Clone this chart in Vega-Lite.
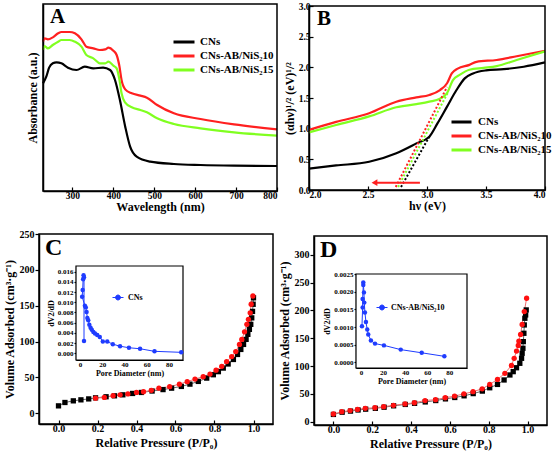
{
"$schema": "https://vega.github.io/schema/vega-lite/v6.json",
"width": 555, "height": 459, "autosize": "none", "padding": 0, "background": "white",
"config": {
 "view": {"stroke": null},
 "font": "Liberation Serif",
 "axis": {"labelFont": "Liberation Serif", "titleFont": "Liberation Serif", "labelFontWeight": "bold", "titleFontWeight": "bold", "labelColor": "#000", "titleColor": "#000", "domainColor": "#000", "tickColor": "#000", "grid": false, "domainWidth": 1.5, "tickWidth": 1.2, "labelFontSize": 10, "titleFontSize": 12},
 "legend": {"labelFont": "Liberation Serif", "labelFontWeight": "bold", "labelColor": "#000"}
},
"datasets": {
 "uv": [
  {"s":"CNs","wl":228,"a":3.23},{"s":"CNs","wl":236,"a":3.43},{"s":"CNs","wl":243,"a":3.70},{"s":"CNs","wl":252,"a":3.83},{"s":"CNs","wl":261,"a":3.86},{"s":"CNs","wl":273,"a":3.83},{"s":"CNs","wl":289,"a":3.70},{"s":"CNs","wl":310,"a":3.63},{"s":"CNs","wl":330,"a":3.73},{"s":"CNs","wl":351,"a":3.68},{"s":"CNs","wl":375,"a":3.70},{"s":"CNs","wl":392,"a":3.63},{"s":"CNs","wl":404,"a":3.33},{"s":"CNs","wl":416,"a":2.73},{"s":"CNs","wl":429,"a":1.93},{"s":"CNs","wl":441,"a":1.33},{"s":"CNs","wl":457,"a":1.03},{"s":"CNs","wl":490,"a":0.88},{"s":"CNs","wl":548,"a":0.81},{"s":"CNs","wl":613,"a":0.78},{"s":"CNs","wl":695,"a":0.76},{"s":"CNs","wl":800,"a":0.75},
  {"s":"CNs-AB/NiS₂10","wl":228,"a":4.48},{"s":"CNs-AB/NiS₂10","wl":232,"a":4.58},{"s":"CNs-AB/NiS₂10","wl":240,"a":4.55},{"s":"CNs-AB/NiS₂10","wl":252,"a":4.61},{"s":"CNs-AB/NiS₂10","wl":265,"a":4.73},{"s":"CNs-AB/NiS₂10","wl":273,"a":4.77},{"s":"CNs-AB/NiS₂10","wl":293,"a":4.77},{"s":"CNs-AB/NiS₂10","wl":306,"a":4.73},{"s":"CNs-AB/NiS₂10","wl":322,"a":4.55},{"s":"CNs-AB/NiS₂10","wl":334,"a":4.33},{"s":"CNs-AB/NiS₂10","wl":351,"a":4.28},{"s":"CNs-AB/NiS₂10","wl":367,"a":4.23},{"s":"CNs-AB/NiS₂10","wl":380,"a":4.25},{"s":"CNs-AB/NiS₂10","wl":388,"a":4.30},{"s":"CNs-AB/NiS₂10","wl":400,"a":4.21},{"s":"CNs-AB/NiS₂10","wl":408,"a":4.08},{"s":"CNs-AB/NiS₂10","wl":415,"a":3.73},{"s":"CNs-AB/NiS₂10","wl":420,"a":3.33},{"s":"CNs-AB/NiS₂10","wl":429,"a":3.05},{"s":"CNs-AB/NiS₂10","wl":445,"a":2.93},{"s":"CNs-AB/NiS₂10","wl":466,"a":2.86},{"s":"CNs-AB/NiS₂10","wl":482,"a":2.80},{"s":"CNs-AB/NiS₂10","wl":507,"a":2.58},{"s":"CNs-AB/NiS₂10","wl":548,"a":2.33},{"s":"CNs-AB/NiS₂10","wl":613,"a":2.16},{"s":"CNs-AB/NiS₂10","wl":695,"a":2.00},{"s":"CNs-AB/NiS₂10","wl":800,"a":1.85},
  {"s":"CNs-AB/NiS₂15","wl":228,"a":4.23},{"s":"CNs-AB/NiS₂15","wl":232,"a":4.35},{"s":"CNs-AB/NiS₂15","wl":240,"a":4.28},{"s":"CNs-AB/NiS₂15","wl":252,"a":4.38},{"s":"CNs-AB/NiS₂15","wl":265,"a":4.48},{"s":"CNs-AB/NiS₂15","wl":273,"a":4.53},{"s":"CNs-AB/NiS₂15","wl":293,"a":4.53},{"s":"CNs-AB/NiS₂15","wl":306,"a":4.48},{"s":"CNs-AB/NiS₂15","wl":322,"a":4.33},{"s":"CNs-AB/NiS₂15","wl":334,"a":4.08},{"s":"CNs-AB/NiS₂15","wl":351,"a":3.98},{"s":"CNs-AB/NiS₂15","wl":367,"a":3.83},{"s":"CNs-AB/NiS₂15","wl":380,"a":3.83},{"s":"CNs-AB/NiS₂15","wl":388,"a":3.88},{"s":"CNs-AB/NiS₂15","wl":400,"a":3.76},{"s":"CNs-AB/NiS₂15","wl":408,"a":3.68},{"s":"CNs-AB/NiS₂15","wl":415,"a":3.33},{"s":"CNs-AB/NiS₂15","wl":420,"a":2.93},{"s":"CNs-AB/NiS₂15","wl":429,"a":2.65},{"s":"CNs-AB/NiS₂15","wl":445,"a":2.51},{"s":"CNs-AB/NiS₂15","wl":466,"a":2.43},{"s":"CNs-AB/NiS₂15","wl":482,"a":2.36},{"s":"CNs-AB/NiS₂15","wl":507,"a":2.18},{"s":"CNs-AB/NiS₂15","wl":548,"a":2.01},{"s":"CNs-AB/NiS₂15","wl":613,"a":1.88},{"s":"CNs-AB/NiS₂15","wl":695,"a":1.76},{"s":"CNs-AB/NiS₂15","wl":800,"a":1.66}
 ],
 "tauc": [
  {"s":"CNs","e":2.0,"v":0.35},{"s":"CNs","e":2.23,"v":0.40},{"s":"CNs","e":2.51,"v":0.46},{"s":"CNs","e":2.74,"v":0.60},{"s":"CNs","e":2.91,"v":0.76},{"s":"CNs","e":3.02,"v":0.87},{"s":"CNs","e":3.09,"v":1.09},{"s":"CNs","e":3.17,"v":1.36},{"s":"CNs","e":3.25,"v":1.63},{"s":"CNs","e":3.32,"v":1.82},{"s":"CNs","e":3.39,"v":1.90},{"s":"CNs","e":3.50,"v":1.95},{"s":"CNs","e":3.65,"v":1.97},{"s":"CNs","e":3.82,"v":2.01},{"s":"CNs","e":4.0,"v":2.08},
  {"s":"CNs-AB/NiS₂10","e":2.0,"v":0.98},{"s":"CNs-AB/NiS₂10","e":2.23,"v":1.11},{"s":"CNs-AB/NiS₂10","e":2.51,"v":1.25},{"s":"CNs-AB/NiS₂10","e":2.74,"v":1.44},{"s":"CNs-AB/NiS₂10","e":2.91,"v":1.51},{"s":"CNs-AB/NiS₂10","e":3.02,"v":1.55},{"s":"CNs-AB/NiS₂10","e":3.11,"v":1.63},{"s":"CNs-AB/NiS₂10","e":3.17,"v":1.74},{"s":"CNs-AB/NiS₂10","e":3.21,"v":1.90},{"s":"CNs-AB/NiS₂10","e":3.26,"v":1.98},{"s":"CNs-AB/NiS₂10","e":3.36,"v":2.04},{"s":"CNs-AB/NiS₂10","e":3.42,"v":2.09},{"s":"CNs-AB/NiS₂10","e":3.59,"v":2.12},{"s":"CNs-AB/NiS₂10","e":3.76,"v":2.18},{"s":"CNs-AB/NiS₂10","e":4.0,"v":2.27},
  {"s":"CNs-AB/NiS₂15","e":2.0,"v":0.94},{"s":"CNs-AB/NiS₂15","e":2.23,"v":1.06},{"s":"CNs-AB/NiS₂15","e":2.51,"v":1.20},{"s":"CNs-AB/NiS₂15","e":2.74,"v":1.35},{"s":"CNs-AB/NiS₂15","e":2.91,"v":1.40},{"s":"CNs-AB/NiS₂15","e":3.02,"v":1.44},{"s":"CNs-AB/NiS₂15","e":3.11,"v":1.49},{"s":"CNs-AB/NiS₂15","e":3.17,"v":1.58},{"s":"CNs-AB/NiS₂15","e":3.22,"v":1.79},{"s":"CNs-AB/NiS₂15","e":3.28,"v":1.88},{"s":"CNs-AB/NiS₂15","e":3.36,"v":1.96},{"s":"CNs-AB/NiS₂15","e":3.48,"v":1.99},{"s":"CNs-AB/NiS₂15","e":3.59,"v":2.02},{"s":"CNs-AB/NiS₂15","e":3.76,"v":2.12},{"s":"CNs-AB/NiS₂15","e":4.0,"v":2.26}
 ],
 "tangent": [
  {"s":"CNs-AB/NiS₂10","e":2.735,"v":0.05},{"s":"CNs-AB/NiS₂10","e":3.17,"v":1.68},
  {"s":"CNs-AB/NiS₂15","e":2.755,"v":0.05},{"s":"CNs-AB/NiS₂15","e":3.18,"v":1.60},
  {"s":"CNs","e":2.78,"v":0.05},{"s":"CNs","e":3.02,"v":0.87}
 ],
 "betC": [
  {"s":"adsorption","p":0.0,"v":10.3},{"s":"adsorption","p":0.033,"v":15},{"s":"adsorption","p":0.076,"v":17.3},{"s":"adsorption","p":0.115,"v":18.7},{"s":"adsorption","p":0.155,"v":20},{"s":"adsorption","p":0.19,"v":21.5},{"s":"adsorption","p":0.244,"v":23},{"s":"adsorption","p":0.287,"v":24.3},{"s":"adsorption","p":0.33,"v":25.7},{"s":"adsorption","p":0.38,"v":27.6},{"s":"adsorption","p":0.425,"v":29},{"s":"adsorption","p":0.48,"v":31},{"s":"adsorption","p":0.536,"v":33},{"s":"adsorption","p":0.58,"v":35},{"s":"adsorption","p":0.63,"v":37.4},{"s":"adsorption","p":0.674,"v":40.6},{"s":"adsorption","p":0.717,"v":44.4},{"s":"adsorption","p":0.76,"v":49},{"s":"adsorption","p":0.794,"v":53.7},{"s":"adsorption","p":0.82,"v":58},{"s":"adsorption","p":0.845,"v":63},{"s":"adsorption","p":0.87,"v":68.7},{"s":"adsorption","p":0.897,"v":75},{"s":"adsorption","p":0.918,"v":82},{"s":"adsorption","p":0.935,"v":89},{"s":"adsorption","p":0.949,"v":96},{"s":"adsorption","p":0.962,"v":103},{"s":"adsorption","p":0.971,"v":110},{"s":"adsorption","p":0.979,"v":117},{"s":"adsorption","p":0.986,"v":124},{"s":"adsorption","p":0.991,"v":133},{"s":"adsorption","p":0.995,"v":142},{"s":"adsorption","p":0.998,"v":152},{"s":"adsorption","p":1.0,"v":161},
  {"s":"desorption","p":0.19,"v":21},{"s":"desorption","p":0.235,"v":22},{"s":"desorption","p":0.28,"v":24.5},{"s":"desorption","p":0.316,"v":25.7},{"s":"desorption","p":0.356,"v":27},{"s":"desorption","p":0.4,"v":29},{"s":"desorption","p":0.436,"v":30},{"s":"desorption","p":0.476,"v":32},{"s":"desorption","p":0.515,"v":35},{"s":"desorption","p":0.57,"v":37},{"s":"desorption","p":0.62,"v":40.6},{"s":"desorption","p":0.66,"v":44},{"s":"desorption","p":0.7,"v":47.7},{"s":"desorption","p":0.742,"v":51},{"s":"desorption","p":0.777,"v":54.7},{"s":"desorption","p":0.808,"v":60},{"s":"desorption","p":0.837,"v":65.4},{"s":"desorption","p":0.862,"v":72},{"s":"desorption","p":0.888,"v":79},{"s":"desorption","p":0.909,"v":86},{"s":"desorption","p":0.928,"v":96},{"s":"desorption","p":0.94,"v":103},{"s":"desorption","p":0.954,"v":113.5},{"s":"desorption","p":0.966,"v":124},{"s":"desorption","p":0.974,"v":131},{"s":"desorption","p":0.983,"v":140},{"s":"desorption","p":0.988,"v":152},{"s":"desorption","p":0.997,"v":163.5}
 ],
 "betD": [
  {"s":"adsorption","p":0.0,"v":13},{"s":"adsorption","p":0.045,"v":17},{"s":"adsorption","p":0.088,"v":19},{"s":"adsorption","p":0.127,"v":21},{"s":"adsorption","p":0.166,"v":22.5},{"s":"adsorption","p":0.216,"v":24},{"s":"adsorption","p":0.261,"v":26},{"s":"adsorption","p":0.31,"v":28.5},{"s":"adsorption","p":0.37,"v":31},{"s":"adsorption","p":0.418,"v":33},{"s":"adsorption","p":0.473,"v":35.5},{"s":"adsorption","p":0.527,"v":38},{"s":"adsorption","p":0.577,"v":41},{"s":"adsorption","p":0.625,"v":43.5},{"s":"adsorption","p":0.673,"v":46.5},{"s":"adsorption","p":0.72,"v":50.5},{"s":"adsorption","p":0.767,"v":55},{"s":"adsorption","p":0.805,"v":61},{"s":"adsorption","p":0.845,"v":67},{"s":"adsorption","p":0.879,"v":75},{"s":"adsorption","p":0.909,"v":84},{"s":"adsorption","p":0.926,"v":90},{"s":"adsorption","p":0.943,"v":97},{"s":"adsorption","p":0.96,"v":105},{"s":"adsorption","p":0.969,"v":114},{"s":"adsorption","p":0.972,"v":123},{"s":"adsorption","p":0.976,"v":132},{"s":"adsorption","p":0.978,"v":144},{"s":"adsorption","p":0.981,"v":159},{"s":"adsorption","p":0.983,"v":174},{"s":"adsorption","p":0.986,"v":186},{"s":"adsorption","p":0.99,"v":192},{"s":"adsorption","p":0.993,"v":201},
  {"s":"desorption","p":0.0,"v":13.8},{"s":"desorption","p":0.043,"v":18},{"s":"desorption","p":0.086,"v":20},{"s":"desorption","p":0.124,"v":22},{"s":"desorption","p":0.164,"v":24},{"s":"desorption","p":0.214,"v":25},{"s":"desorption","p":0.259,"v":27},{"s":"desorption","p":0.309,"v":29.4},{"s":"desorption","p":0.369,"v":32},{"s":"desorption","p":0.417,"v":34},{"s":"desorption","p":0.472,"v":38},{"s":"desorption","p":0.526,"v":39.6},{"s":"desorption","p":0.576,"v":43},{"s":"desorption","p":0.624,"v":46},{"s":"desorption","p":0.672,"v":50},{"s":"desorption","p":0.719,"v":54},{"s":"desorption","p":0.766,"v":59},{"s":"desorption","p":0.805,"v":67},{"s":"desorption","p":0.845,"v":76},{"s":"desorption","p":0.883,"v":87},{"s":"desorption","p":0.917,"v":101},{"s":"desorption","p":0.931,"v":114},{"s":"desorption","p":0.943,"v":127},{"s":"desorption","p":0.952,"v":137},{"s":"desorption","p":0.955,"v":145},{"s":"desorption","p":0.964,"v":157},{"s":"desorption","p":0.972,"v":175},{"s":"desorption","p":0.983,"v":198},{"s":"desorption","p":0.995,"v":222}
 ],
 "poreC": [
  {"s":"CNs","i":0,"d":3.6,"v":0.0024},{"s":"CNs","i":1,"d":3.6,"v":0.0149},{"s":"CNs","i":2,"d":3.2,"v":0.0153},{"s":"CNs","i":3,"d":2.8,"v":0.0145},{"s":"CNs","i":4,"d":2.4,"v":0.0124},{"s":"CNs","i":5,"d":1.9,"v":0.0111},{"s":"CNs","i":6,"d":4.4,"v":0.0093},{"s":"CNs","i":7,"d":5.2,"v":0.0090},{"s":"CNs","i":8,"d":5.9,"v":0.0081},{"s":"CNs","i":9,"d":6.6,"v":0.0069},{"s":"CNs","i":10,"d":7.4,"v":0.0065},{"s":"CNs","i":11,"d":8.4,"v":0.0056},{"s":"CNs","i":12,"d":9.5,"v":0.0050},{"s":"CNs","i":13,"d":10.6,"v":0.0046},{"s":"CNs","i":14,"d":12.0,"v":0.0042},{"s":"CNs","i":15,"d":13.5,"v":0.0039},{"s":"CNs","i":16,"d":15.5,"v":0.0036},{"s":"CNs","i":17,"d":17.8,"v":0.0032},{"s":"CNs","i":18,"d":20.5,"v":0.0023},{"s":"CNs","i":19,"d":24.5,"v":0.0023},{"s":"CNs","i":20,"d":29.5,"v":0.0018},{"s":"CNs","i":21,"d":36,"v":0.0014},{"s":"CNs","i":22,"d":44,"v":0.0011},{"s":"CNs","i":23,"d":54,"v":0.0009},{"s":"CNs","i":24,"d":67,"v":0.0004},{"s":"CNs","i":25,"d":91,"v":0.0002}
 ],
 "poreD": [
  {"s":"CNs-AB/NiS₂10","i":0,"d":0.9,"v":0.00102},{"s":"CNs-AB/NiS₂10","i":1,"d":1.5,"v":0.00155},{"s":"CNs-AB/NiS₂10","i":2,"d":1.5,"v":0.00179},{"s":"CNs-AB/NiS₂10","i":3,"d":2.1,"v":0.00219},{"s":"CNs-AB/NiS₂10","i":4,"d":2.1,"v":0.00226},{"s":"CNs-AB/NiS₂10","i":5,"d":2.7,"v":0.00198},{"s":"CNs-AB/NiS₂10","i":6,"d":3.0,"v":0.00169},{"s":"CNs-AB/NiS₂10","i":7,"d":3.6,"v":0.00141},{"s":"CNs-AB/NiS₂10","i":8,"d":4.5,"v":0.00114},{"s":"CNs-AB/NiS₂10","i":9,"d":5.7,"v":0.00093},{"s":"CNs-AB/NiS₂10","i":10,"d":6.6,"v":0.00079},{"s":"CNs-AB/NiS₂10","i":11,"d":9,"v":0.00062},{"s":"CNs-AB/NiS₂10","i":12,"d":12.7,"v":0.00053},{"s":"CNs-AB/NiS₂10","i":13,"d":20.8,"v":0.00048},{"s":"CNs-AB/NiS₂10","i":14,"d":36,"v":0.00036},{"s":"CNs-AB/NiS₂10","i":15,"d":55,"v":0.00027},{"s":"CNs-AB/NiS₂10","i":16,"d":75.5,"v":0.00017}
 ],
 "one": [{}]
},
"layer": [
 {"layer": [
  {"data": {"name": "uv"}, "mark": {"type": "line", "strokeWidth": 2.2, "interpolate": "monotone"},
   "encoding": {
    "x": {"field": "wl", "type": "quantitative", "scale": {"domain": [228, 800], "range": [43, 277], "nice": false, "zero": false},
          "axis": {"orient": "bottom", "offset": -268, "values": [300,400,500,600,700,800], "tickSize": -4, "labelPadding": 3, "labelFontSize": 9.5, "title": "Wavelength (nm)", "titlePadding": 2}},
    "y": {"field": "a", "type": "quantitative", "scale": {"domain": [0, 5.61], "range": [191, 4], "nice": false, "zero": false},
          "axis": {"orient": "left", "offset": -43, "labels": false, "ticks": false, "title": "Absorbance (a.u.)", "titlePadding": 4}},
    "color": {"field": "s", "type": "nominal", "scale": {"domain": ["CNs","CNs-AB/NiS₂10","CNs-AB/NiS₂15"], "range": ["#000000","#ff2020","#80ff20"]},
          "legend": {"title": null, "orient": "none", "legendX": 172, "legendY": 36, "symbolType": "stroke", "symbolSize": 441, "symbolStrokeWidth": 3, "clipHeight": 12, "rowPadding": 2, "labelFontSize": 11, "labelOffset": 4}}
   }},
  {"data": {"name": "one"}, "mark": {"type": "rect", "fill": "transparent", "stroke": "#000", "strokeWidth": 1.5},
   "encoding": {"x": {"datum": 228, "type": "quantitative"}, "x2": {"datum": 800}, "y": {"datum": 0, "type": "quantitative"}, "y2": {"datum": 5.61}}},
  {"data": {"name": "one"}, "mark": {"type": "text", "text": "A", "font": "Liberation Serif", "fontWeight": "bold", "fontSize": 21, "align": "left", "baseline": "alphabetic"},
   "encoding": {"x": {"datum": 245, "type": "quantitative"}, "y": {"datum": 5.04, "type": "quantitative"}}}
 ]},
 {"layer": [
  {"data": {"name": "tauc"}, "mark": {"type": "line", "strokeWidth": 2.2, "interpolate": "monotone"},
   "encoding": {
    "x": {"field": "e", "type": "quantitative", "scale": {"domain": [2, 4], "range": [309, 545], "nice": false, "zero": false},
          "axis": {"orient": "bottom", "offset": -269, "values": [2,2.5,3,3.5,4], "format": ".1f", "tickSize": -4, "labelPadding": 3, "labelFontSize": 9.5, "title": "hν (eV)", "titlePadding": 2}},
    "y": {"field": "v", "type": "quantitative", "scale": {"domain": [0, 3], "range": [190, 6], "nice": false, "zero": false},
          "axis": {"orient": "left", "offset": -309, "values": [0,0.5,1,1.5,2,2.5,3], "format": ".1f", "tickSize": -4, "labelPadding": 3, "labelFontSize": 9.5, "title": "(αhν)¹/² (eV)¹/²", "titlePadding": 2}},
    "color": {"field": "s", "type": "nominal", "scale": {"domain": ["CNs","CNs-AB/NiS₂10","CNs-AB/NiS₂15"], "range": ["#000000","#ff2020","#80ff20"]},
          "legend": {"title": null, "orient": "none", "legendX": 450, "legendY": 116, "symbolType": "stroke", "symbolSize": 400, "symbolStrokeWidth": 3, "clipHeight": 12, "rowPadding": 2, "labelFontSize": 11, "labelOffset": 5}}
   }},
  {"data": {"name": "tangent"}, "mark": {"type": "line", "strokeWidth": 2, "strokeDash": [2, 2]},
   "encoding": {"x": {"field": "e", "type": "quantitative"}, "y": {"field": "v", "type": "quantitative"},
    "stroke": {"field": "s", "type": "nominal", "scale": {"domain": ["CNs","CNs-AB/NiS₂10","CNs-AB/NiS₂15"], "range": ["#000000","#ff2020","#80ff20"]}, "legend": null}}},
  {"data": {"name": "one"}, "mark": {"type": "rule", "color": "#ff2020", "strokeWidth": 2},
   "encoding": {"x": {"datum": 2.94, "type": "quantitative"}, "x2": {"datum": 2.56}, "y": {"datum": 0.12, "type": "quantitative"}}},
  {"data": {"name": "one"}, "mark": {"type": "point", "shape": "triangle-left", "filled": true, "color": "#ff2020", "size": 45, "opacity": 1},
   "encoding": {"x": {"datum": 2.555, "type": "quantitative"}, "y": {"datum": 0.12, "type": "quantitative"}}},
  {"data": {"name": "one"}, "mark": {"type": "rect", "fill": "transparent", "stroke": "#000", "strokeWidth": 1.5},
   "encoding": {"x": {"datum": 2, "type": "quantitative"}, "x2": {"datum": 4}, "y": {"datum": 0, "type": "quantitative"}, "y2": {"datum": 3}}},
  {"data": {"name": "one"}, "mark": {"type": "text", "text": "B", "font": "Liberation Serif", "fontWeight": "bold", "fontSize": 21, "align": "left", "baseline": "alphabetic"},
   "encoding": {"x": {"datum": 2.068, "type": "quantitative"}, "y": {"datum": 2.69, "type": "quantitative"}}}
 ]},
 {"layer": [
  {"data": {"name": "betC"}, "mark": {"type": "line", "strokeWidth": 1},
   "encoding": {
    "x": {"field": "p", "type": "quantitative", "scale": {"domain": [-0.1, 1.1], "range": [39, 273], "nice": false, "zero": false},
          "axis": {"orient": "bottom", "offset": -35, "values": [0,0.2,0.4,0.6,0.8,1.0], "format": ".1f", "tickSize": -4, "labelPadding": 3, "title": "Relative Pressure (P/P₀)", "titlePadding": 4}},
    "y": {"field": "v", "type": "quantitative", "scale": {"domain": [-15, 250], "range": [424, 234], "nice": false, "zero": false},
          "axis": {"orient": "left", "offset": -39, "values": [0,50,100,150,200,250], "tickSize": 4, "labelPadding": 1, "title": "Volume Adsorbed (cm³·g⁻¹)", "titlePadding": 3}},
    "stroke": {"field": "s", "type": "nominal", "scale": {"domain": ["adsorption","desorption"], "range": ["#666666","#f07070"]}, "legend": null}
   }},
  {"data": {"name": "betC"}, "mark": {"type": "point", "filled": true, "size": 28, "opacity": 1},
   "encoding": {"x": {"field": "p", "type": "quantitative"}, "y": {"field": "v", "type": "quantitative"},
    "shape": {"field": "s", "type": "nominal", "scale": {"domain": ["adsorption","desorption"], "range": ["square","circle"]}, "legend": null},
    "color": {"field": "s", "type": "nominal", "scale": {"domain": ["adsorption","desorption"], "range": ["#000000","#ff1010"]},
     "legend": {"title": null, "orient": "none", "legendX": 173, "legendY": 244.5, "symbolSize": 400, "clipHeight": 13, "rowPadding": 0, "labelFontSize": 12, "labelOffset": 6,
      "encode": {"symbols": {"update": {"shape": {"signal": "datum.value === 'adsorption' ? 'M-1,0H1M-0.27,-0.27H0.27V0.27H-0.27Z' : 'M-1,0H1M0.3,0A0.3,0.3 0 1,1 -0.3,0A0.3,0.3 0 1,1 0.3,0Z'"}, "stroke": {"signal": "datum.value === 'adsorption' ? '#666666' : '#f07070'"}, "strokeWidth": {"value": 1}, "size": {"value": 400}}}}}}
   }},
  {"data": {"name": "one"}, "mark": {"type": "rect", "fill": "transparent", "stroke": "#000", "strokeWidth": 1.5},
   "encoding": {"x": {"datum": -0.1, "type": "quantitative"}, "x2": {"datum": 1.1}, "y": {"datum": -15, "type": "quantitative"}, "y2": {"datum": 250}}},
  {"data": {"name": "one"}, "mark": {"type": "text", "text": "C", "font": "Liberation Serif", "fontWeight": "bold", "fontSize": 24, "align": "left", "baseline": "alphabetic"},
   "encoding": {"x": {"datum": -0.069, "type": "quantitative"}, "y": {"datum": 220.7, "type": "quantitative"}}}
 ]},
 {"layer": [
  {"data": {"name": "betD"}, "mark": {"type": "line", "strokeWidth": 1},
   "encoding": {
    "x": {"field": "p", "type": "quantitative", "scale": {"domain": [-0.1, 1.1], "range": [314, 547], "nice": false, "zero": false},
          "axis": {"orient": "bottom", "offset": -34, "values": [0,0.2,0.4,0.6,0.8,1.0], "format": ".1f", "tickSize": -4, "labelPadding": 3, "title": "Relative Pressure (P/P₀)", "titlePadding": 4}},
    "y": {"field": "v", "type": "quantitative", "scale": {"domain": [-6, 334], "range": [425, 236], "nice": false, "zero": false},
          "axis": {"orient": "left", "offset": -314, "values": [0,50,100,150,200,250,300], "tickSize": 4, "labelPadding": 1, "title": "Volume Adsorbed (cm³·g⁻¹)", "titlePadding": 3}},
    "stroke": {"field": "s", "type": "nominal", "scale": {"domain": ["adsorption","desorption"], "range": ["#666666","#f07070"]}, "legend": null}
   }},
  {"data": {"name": "betD"}, "mark": {"type": "point", "filled": true, "size": 28, "opacity": 1},
   "encoding": {"x": {"field": "p", "type": "quantitative"}, "y": {"field": "v", "type": "quantitative"},
    "shape": {"field": "s", "type": "nominal", "scale": {"domain": ["adsorption","desorption"], "range": ["square","circle"]}, "legend": null},
    "color": {"field": "s", "type": "nominal", "scale": {"domain": ["adsorption","desorption"], "range": ["#000000","#ff1010"]},
     "legend": {"title": null, "orient": "none", "legendX": 451, "legendY": 244.5, "symbolSize": 400, "clipHeight": 14, "rowPadding": 0, "labelFontSize": 12, "labelOffset": 6,
      "encode": {"symbols": {"update": {"shape": {"signal": "datum.value === 'adsorption' ? 'M-1,0H1M-0.27,-0.27H0.27V0.27H-0.27Z' : 'M-1,0H1M0.3,0A0.3,0.3 0 1,1 -0.3,0A0.3,0.3 0 1,1 0.3,0Z'"}, "stroke": {"signal": "datum.value === 'adsorption' ? '#666666' : '#f07070'"}, "strokeWidth": {"value": 1}, "size": {"value": 400}}}}}}
   }},
  {"data": {"name": "one"}, "mark": {"type": "rect", "fill": "transparent", "stroke": "#000", "strokeWidth": 1.5},
   "encoding": {"x": {"datum": -0.1, "type": "quantitative"}, "x2": {"datum": 1.1}, "y": {"datum": -6, "type": "quantitative"}, "y2": {"datum": 334}}},
  {"data": {"name": "one"}, "mark": {"type": "text", "text": "D", "font": "Liberation Serif", "fontWeight": "bold", "fontSize": 24, "align": "left", "baseline": "alphabetic"},
   "encoding": {"x": {"datum": -0.069, "type": "quantitative"}, "y": {"datum": 296, "type": "quantitative"}}}
 ]},
 {"layer": [
  {"data": {"name": "one"}, "mark": {"type": "rect", "fill": "white", "stroke": "#000", "strokeWidth": 1.2},
   "encoding": {"x": {"datum": -3.6, "type": "quantitative", "scale": {"domain": [-3.6, 92.6], "range": [76, 183], "nice": false, "zero": false},
      "axis": {"orient": "bottom", "offset": -99, "values": [0,20,40,60,80], "tickSize": -2, "labelPadding": 2, "labelFontSize": 7, "title": "Pore Diameter (nm)", "titleFontSize": 8, "titlePadding": 2, "domainWidth": 1.2}},
    "x2": {"datum": 92.6},
    "y": {"datum": -0.0013, "type": "quantitative", "scale": {"domain": [-0.0013, 0.0171], "range": [360, 266], "nice": false, "zero": false},
      "axis": {"orient": "left", "offset": -76, "values": [0,0.002,0.004,0.006,0.008,0.01,0.012,0.014,0.016], "format": ".3f", "tickSize": 2, "labelPadding": 1, "labelFontSize": 7, "title": "dV2/dD", "titleFontSize": 8, "titlePadding": 2, "domainWidth": 1.2}},
    "y2": {"datum": 0.0171}}},
  {"data": {"name": "poreC"}, "mark": {"type": "line", "strokeWidth": 1, "point": {"filled": true, "size": 20, "opacity": 1}},
   "encoding": {"x": {"field": "d", "type": "quantitative"}, "y": {"field": "v", "type": "quantitative"}, "order": {"field": "i"},
    "color": {"field": "s", "type": "nominal", "scale": {"domain": ["CNs"], "range": ["#1f3cff"]},
     "legend": {"title": null, "orient": "none", "legendX": 112, "legendY": 293, "symbolSize": 121, "clipHeight": 9, "labelFontSize": 8, "labelOffset": 4,
      "encode": {"symbols": {"update": {"shape": {"value": "M-1,0H1M0.45,0A0.45,0.45 0 1,1 -0.45,0A0.45,0.45 0 1,1 0.45,0Z"}, "stroke": {"value": "#1f3cff"}, "fill": {"value": "#1f3cff"}, "strokeWidth": {"value": 1}, "size": {"value": 121}}}}}}
   }}
 ]},
 {"layer": [
  {"data": {"name": "one"}, "mark": {"type": "rect", "fill": "white", "stroke": "#000", "strokeWidth": 1.2},
   "encoding": {"x": {"datum": -4.5, "type": "quantitative", "scale": {"domain": [-4.5, 96], "range": [356, 467], "nice": false, "zero": false},
      "axis": {"orient": "bottom", "offset": -91, "values": [0,20,40,60,80], "tickSize": -2, "labelPadding": 2, "labelFontSize": 7, "title": "Pore Diameter (nm)", "titleFontSize": 8, "titlePadding": 2, "domainWidth": 1.2}},
    "x2": {"datum": 96},
    "y": {"datum": -0.00016, "type": "quantitative", "scale": {"domain": [-0.00016, 0.0025], "range": [368, 274], "nice": false, "zero": false},
      "axis": {"orient": "left", "offset": -356, "values": [0,0.0005,0.001,0.0015,0.002,0.0025], "format": ".4f", "tickSize": 2, "labelPadding": 1, "labelFontSize": 7, "title": "dV2/dD", "titleFontSize": 8, "titlePadding": 2, "domainWidth": 1.2}},
    "y2": {"datum": 0.0025}}},
  {"data": {"name": "poreD"}, "mark": {"type": "line", "strokeWidth": 1, "point": {"filled": true, "size": 20, "opacity": 1}},
   "encoding": {"x": {"field": "d", "type": "quantitative"}, "y": {"field": "v", "type": "quantitative"}, "order": {"field": "i"},
    "color": {"field": "s", "type": "nominal", "scale": {"domain": ["CNs-AB/NiS₂10"], "range": ["#1f3cff"]},
     "legend": {"title": null, "orient": "none", "legendX": 376, "legendY": 303, "symbolSize": 121, "clipHeight": 9, "labelFontSize": 8, "labelOffset": 3,
      "encode": {"symbols": {"update": {"shape": {"value": "M-1,0H1M0.45,0A0.45,0.45 0 1,1 -0.45,0A0.45,0.45 0 1,1 0.45,0Z"}, "stroke": {"value": "#1f3cff"}, "fill": {"value": "#1f3cff"}, "strokeWidth": {"value": 1}, "size": {"value": 121}}}}}}
   }}
 ]}
],
"resolve": {
 "scale": {"x": "independent", "y": "independent", "color": "independent", "shape": "independent", "stroke": "independent"},
 "axis": {"x": "independent", "y": "independent"},
 "legend": {"color": "independent", "shape": "independent", "stroke": "independent"}
}
}
